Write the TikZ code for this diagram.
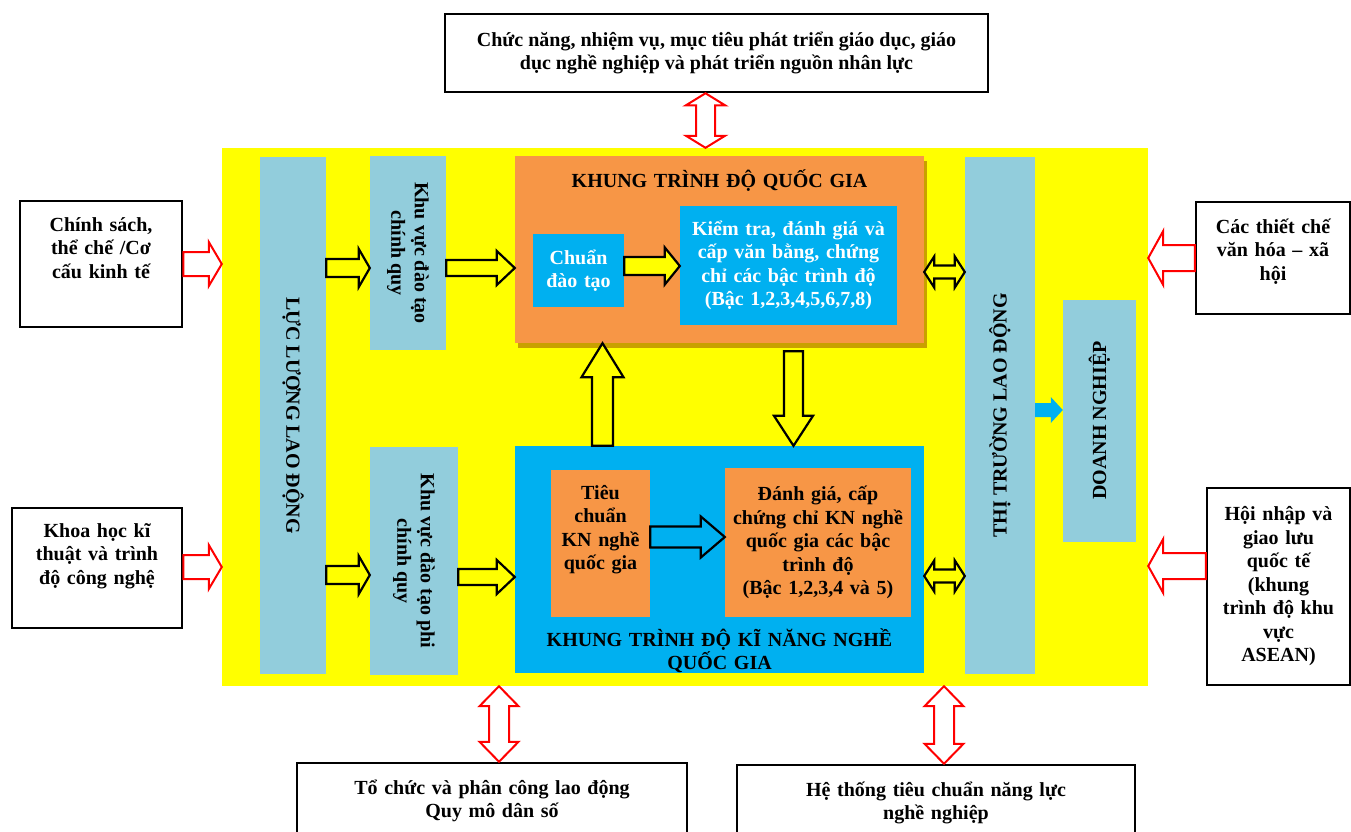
\documentclass[tikz,border=0pt]{standalone}
\usepackage{fontspec}
\setmainfont{Liberation Serif}
\usetikzlibrary{
  calc,
  positioning,
  shadows
}
\definecolor{qfYellow}{HTML}{FFFF00}
\definecolor{qfPale}{HTML}{92CDDC}
\definecolor{qfOrange}{HTML}{F79646}
\definecolor{qfBlue}{HTML}{00B0F0}
\definecolor{qfShadow}{HTML}{C9A000}
\definecolor{qfRed}{HTML}{FF0000}
\newcommand{\qfFont}{\fontsize{20}{23.5}\selectfont\bfseries}
\tikzset{
  qfOuter/.style={
    draw=black,
    line width=2.5pt,
    fill=white,
    align=center,
    font=\qfFont,
    inner sep=0pt
  },
  qfBar/.style={fill=qfPale, align=center, font=\qfFont, inner sep=2pt},
  qfFrame/.style={fill=qfYellow, inner sep=0pt},
  qfInner/.style={align=center, font=\qfFont, inner sep=0pt},
  qfOrangeBox/.style={
    qfInner,
    fill=qfOrange,
    drop shadow={shadow xshift=3pt, shadow yshift=-5pt, fill=qfShadow, opacity=1}
  },
  blockArrow/.style n args={3}{to path={
    ($(\tikztotarget)!#3!(\tikztostart)$) coordinate (bh)
    ($(\tikztostart)!#1!90:(\tikztotarget)$) -- ($(bh)!#1!90:(\tikztotarget)$)
    -- ($(bh)!#2!90:(\tikztotarget)$) -- (\tikztotarget)
    -- ($(bh)!#2!-90:(\tikztotarget)$) -- ($(bh)!#1!-90:(\tikztotarget)$)
    -- ($(\tikztostart)!#1!-90:(\tikztotarget)$) -- cycle}},
  dblockArrow/.style n args={3}{to path={
    ($(\tikztostart)!#3!(\tikztotarget)$) coordinate (ba)
    ($(\tikztotarget)!#3!(\tikztostart)$) coordinate (bb)
    (\tikztostart) -- ($(ba)!#2!90:(\tikztotarget)$) -- ($(ba)!#1!90:(\tikztotarget)$)
    -- ($(bb)!#1!90:(\tikztotarget)$) -- ($(bb)!#2!90:(\tikztotarget)$) -- (\tikztotarget)
    -- ($(bb)!#2!-90:(\tikztotarget)$) -- ($(bb)!#1!-90:(\tikztotarget)$)
    -- ($(ba)!#1!-90:(\tikztotarget)$) -- ($(ba)!#2!-90:(\tikztotarget)$) -- cycle}},
  flowArrow/.style={draw=black, line width=2.2pt, fill=qfYellow, line join=miter},
  linkArrow/.style={draw=qfRed, line width=2pt, fill=white, line join=miter},
  pushArrow/.style={fill=qfBlue, draw=none}
}

\begin{document}
\begin{tikzpicture}[x=1pt,y=-1pt]
  \useasboundingbox (0,0) rectangle (1351,831);
  \clip (0,0) rectangle (1351,831);

  \node[qfFrame, minimum width=926pt, minimum height=538pt] (frame) at (685,417) {};

  % outside influences
  \node[qfOuter, minimum width=543pt, minimum height=78pt] (topBox) at (716.5,53)
    {Chức năng, nhiệm vụ, mục tiêu phát triển giáo dục, giáo\\
     dục nghề nghiệp và phát triển nguồn nhân lực};
  \node[qfOuter, text width=162pt, text height=30pt, text depth=96pt] (policy) at (101,264)
    {Chính sách,\\thể chế /Cơ\\cấu kinh tế};
  \node[qfOuter, text width=170pt, text height=29pt, text depth=91pt] (tech) at (97,568)
    {Khoa học kĩ\\thuật và trình\\độ công nghệ};
  \node[qfOuter, text width=154pt, text height=31pt, text depth=81pt] (culture) at (1273,258)
    {Các thiết chế\\văn hóa – xã\\hội};
  \node[qfOuter, text width=143pt, minimum height=197pt] (integ) at (1278.5,586.5)
    {Hội nhập và\\giao lưu\\quốc tế\\(khung\\trình độ khu\\vực\\ASEAN)};
  \node[qfOuter, text width=390pt, text height=31pt, text depth=60pt] (orgBox) at (492,808.5)
    {Tổ chức và phân công lao động\\Quy mô dân số};
  \node[qfOuter, text width=398pt, text height=31pt, text depth=60pt] (stdBox) at (936,810.5)
    {Hệ thống tiêu chuẩn năng lực\\nghề nghiệp};

  % labour force side
  \node[qfBar, rotate=-90, minimum width=517pt, minimum height=66pt] (llld) at (293,415.5)
    {LỰC LƯỢNG LAO ĐỘNG};
  \node[qfBar, rotate=-90, minimum width=194pt, minimum height=76pt] (cq) at (408,253)
    {Khu vực đào tạo\\chính quy};
  \node[qfBar, rotate=-90, minimum width=228pt, minimum height=88pt] (pcq) at (414,561)
    {Khu vực đào tạo phi\\chính quy};

  % the two frameworks
  \node[qfOrangeBox, text width=409pt, text height=31pt, text depth=156pt] (nqf) at (719.5,249.5)
    {KHUNG TRÌNH ĐỘ QUỐC GIA};
  \node[qfInner, fill=qfBlue, text=white, text width=91pt, minimum height=73pt] (chuan) at (578.5,270.5)
    {Chuẩn\\đào tạo};
  \node[qfInner, fill=qfBlue, text=white, text width=217pt, minimum height=119pt] (kiemtra) at (788.5,265.5)
    {Kiểm tra, đánh giá và\\cấp văn bằng, chứng\\chỉ các bậc trình độ\\(Bậc 1,2,3,4,5,6,7,8)};

  \node[qfInner, fill=qfBlue, text width=409pt, text height=200pt, text depth=27pt] (vqf) at (719.5,559.5)
    {KHUNG TRÌNH ĐỘ KĨ NĂNG NGHỀ\\QUỐC GIA};
  \node[qfInner, fill=qfOrange, text width=99pt, text height=29pt, text depth=118pt] (tieuchuan) at (600.5,543.5)
    {Tiêu\\chuẩn\\KN nghề\\quốc gia};
  \node[qfInner, fill=qfOrange, text width=186pt, minimum height=149pt] (danhgia) at (818,542.5)
    {Đánh giá, cấp\\chứng chỉ KN nghề\\quốc gia các bậc\\trình độ\\(Bậc 1,2,3,4 và 5)};

  % market side
  \node[qfBar, rotate=90, minimum width=517pt, minimum height=70pt] (tt) at (1000,415.5)
    {THỊ TRƯỜNG LAO ĐỘNG};
  \node[qfBar, rotate=90, minimum width=242pt, minimum height=73pt] (dn) at (1099.5,420.5)
    {DOANH NGHIỆP};

  % flows inside the frame
  \draw[flowArrow, blockArrow={9pt}{19pt}{11pt}] (llld.north |- 0,268) to (cq.south |- 0,268);
  \draw[flowArrow, blockArrow={8pt}{17pt}{18pt}] (cq.north |- 0,268) to (nqf.west |- 0,268);
  \draw[flowArrow, blockArrow={9pt}{19pt}{11pt}] (llld.north |- 0,575) to (pcq.south |- 0,575);
  \draw[flowArrow, blockArrow={8pt}{17pt}{18pt}] (pcq.north |- 0,577) to (vqf.west |- 0,577);
  \draw[flowArrow, blockArrow={9pt}{18.5pt}{15pt}] (chuan.east |- 0,266) to (kiemtra.west |- 0,266);
  \draw[flowArrow, fill=qfBlue, blockArrow={10.5pt}{20.5pt}{24pt}] (tieuchuan.east |- 0,537) to (danhgia.west |- 0,537);
  \draw[flowArrow, blockArrow={10.5pt}{21pt}{34pt}] (vqf.north -| 602.5,0) to (nqf.south -| 602.5,0);
  \draw[flowArrow, blockArrow={9.5pt}{19.5pt}{30pt}] ($(nqf.south -| 793.5,0)+(0,8)$) to (vqf.north -| 793.5,0);
  \draw[flowArrow, dblockArrow={6.5pt}{15.5pt}{10pt}] (nqf.east |- 0,272) to (tt.north |- 0,272);
  \draw[flowArrow, dblockArrow={6.5pt}{15.5pt}{10pt}] (vqf.east |- 0,576) to (tt.north |- 0,576);
  \draw[pushArrow, blockArrow={7pt}{13pt}{12pt}] (tt.south |- 0,410) to (dn.north |- 0,410);

  % influences on the frame
  \draw[linkArrow, blockArrow={12pt}{22pt}{13pt}] (policy.east |- 0,264) to (frame.west |- 0,264);
  \draw[linkArrow, blockArrow={12pt}{22pt}{13pt}] (tech.east |- 0,567) to (frame.west |- 0,567);
  \draw[linkArrow, blockArrow={13pt}{27pt}{15pt}] (culture.west |- 0,258) to (frame.east |- 0,258);
  \draw[linkArrow, blockArrow={13pt}{27pt}{15pt}] (integ.west |- 0,566) to (frame.east |- 0,566);
  \draw[linkArrow, dblockArrow={9.5pt}{19.5pt}{12pt}] (topBox.south -| 705.5,0) to (frame.north -| 705.5,0);
  \draw[linkArrow, dblockArrow={10pt}{19.5pt}{20pt}] (frame.south -| 499,0) to (orgBox.north -| 499,0);
  \draw[linkArrow, dblockArrow={10pt}{19.5pt}{20pt}] (frame.south -| 944,0) to (stdBox.north -| 944,0);
\end{tikzpicture}
\end{document}
